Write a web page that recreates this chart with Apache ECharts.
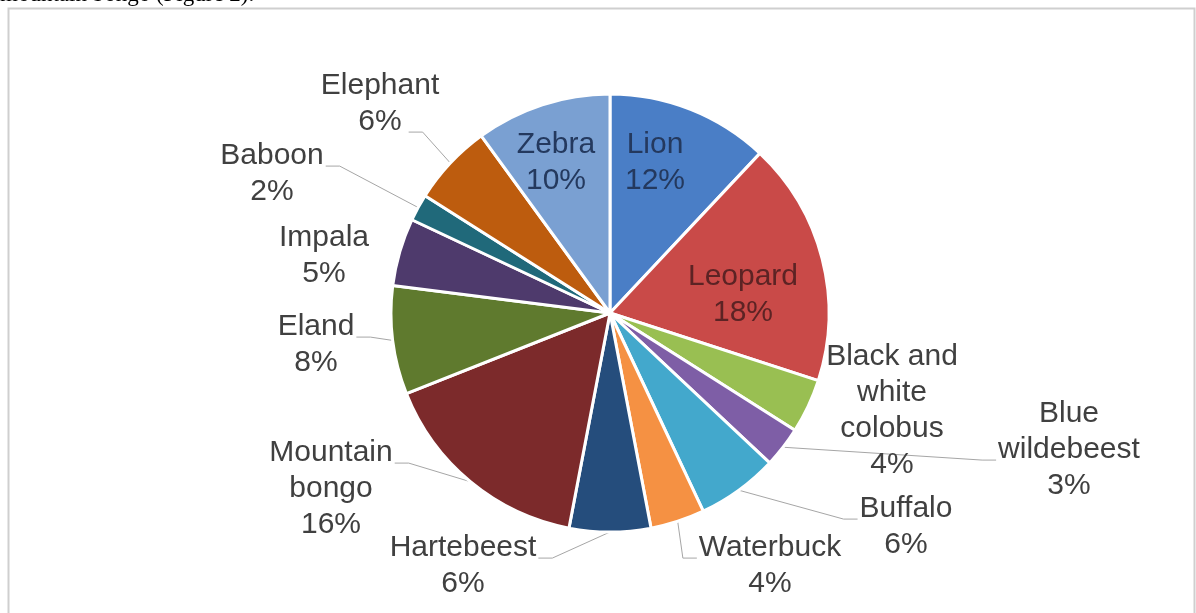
<!DOCTYPE html>
<html>
<head>
<meta charset="utf-8">
<script src="https://cdn.jsdelivr.net/npm/echarts@6/dist/echarts.min.js"></script>
<style>
  html, body { margin: 0; padding: 0; background: #fff; }
  #chart { width: 1196px; height: 613px; }
</style>
</head>
<body>
<div id="chart"></div>
<script>
// species share of sightings, clockwise from 12 o'clock
const species = ['Lion', 'Leopard', 'Black and\nwhite\ncolobus', 'Blue\nwildebeest', 'Buffalo', 'Waterbuck',
  'Hartebeest', 'Mountain\nbongo', 'Eland', 'Impala', 'Baboon', 'Elephant', 'Zebra']
const shares = [12, 18, 4, 3, 6, 4, 6, 16, 8, 5, 2, 6, 10]
const sliceColors = ['#4a7ec6', '#c94a48', '#99bf52', '#7e5ea6', '#43a8cc', '#f59143',
  '#254d7c', '#7c2a2b', '#5f7a2e', '#4e3a6c', '#20697a', '#bd5c0e', '#7aa0d2']

// where Excel placed each label (centre of the text block)
const labelSpots = [
  [655, 163], [743, 295], [892, 411], [1069, 450], [906, 527], [770, 566],
  [463, 566], [331, 489], [316, 345], [324, 256], [272, 174], [380, 104], [556, 163]
]
// which text line the leader line meets, and how wide that line is vs the block
const anchorLine = [0, 0, 0, 1, 0, 0, 0, 0, 0, 0, 0, 1, 0]
const anchorWidth = [1, 1, 1, 1, 1, 1, 1, 1, 1, 1, 1, 0.45, 1]
const insideIdx = [0, 1, 12]
const noLineIdx = [0, 1, 12, 2, 9]
const insideText = { 0: '#24395e', 1: '#5c2324', 12: '#24395e' }

const pieCenter = [610, 313]
const lineH = 36

const chart = echarts.init(document.getElementById('chart'))

const pieData = species.map((name, i) => ({
  name: name,
  value: shares[i],
  itemStyle: { color: sliceColors[i] },
  label: insideIdx.includes(i) ? { position: 'inside', color: insideText[i] } : {},
  labelLine: { show: !noLineIdx.includes(i) }
}))

chart.setOption({
  animation: false,
  backgroundColor: '#fff',
  graphic: [
    {
      type: 'text',
      left: 0,
      top: -17,
      style: {
        text: 'mountain bongo (Figure 2).',
        font: '23px "Liberation Serif", "Times New Roman", serif',
        fill: '#000'
      }
    },
    {
      type: 'rect',
      shape: { x: 8.5, y: 8.5, width: 1186, height: 640 },
      style: { fill: 'none', stroke: '#cfcfcf', lineWidth: 2 },
      silent: true
    }
  ],
  series: [
    {
      type: 'pie',
      center: pieCenter,
      radius: 219,
      startAngle: 90,
      clockwise: true,
      avoidLabelOverlap: false,
      data: pieData,
      itemStyle: { borderColor: '#fff', borderWidth: 3 },
      label: {
        show: true,
        position: 'outside',
        formatter: p => p.name + '\n' + Math.round(p.percent) + '%',
        fontFamily: '"Liberation Sans", Arial, sans-serif',
        fontSize: 30,
        lineHeight: lineH,
        color: '#404040',
        align: 'center'
      },
      labelLine: {
        show: true,
        length: 15,
        length2: 15,
        lineStyle: { color: '#a6a6a6', width: 1 }
      },
      labelLayout: params => {
        const i = params.dataIndex
        const spot = labelSpots[i]
        const out = { x: spot[0], y: spot[1], align: 'center', verticalAlign: 'middle' }
        const pts = params.labelLinePoints
        if (pts && pts.length && !noLineIdx.includes(i)) {
          const w = params.labelRect.width
          const h = params.labelRect.height
          const onLeft = spot[0] < pieCenter[0]
          const half = w / 2 * anchorWidth[i]
          const ax = onLeft ? spot[0] + half + 2 : spot[0] - half - 2
          const ay = spot[1] - h / 2 + anchorLine[i] * lineH + lineH * 0.78
          const ex = onLeft ? ax + 14 : ax - 14
          out.labelLinePoints = [pts[0], [ex, ay], [ax, ay]]
        }
        return out
      }
    }
  ]
})
</script>
</body>
</html>
